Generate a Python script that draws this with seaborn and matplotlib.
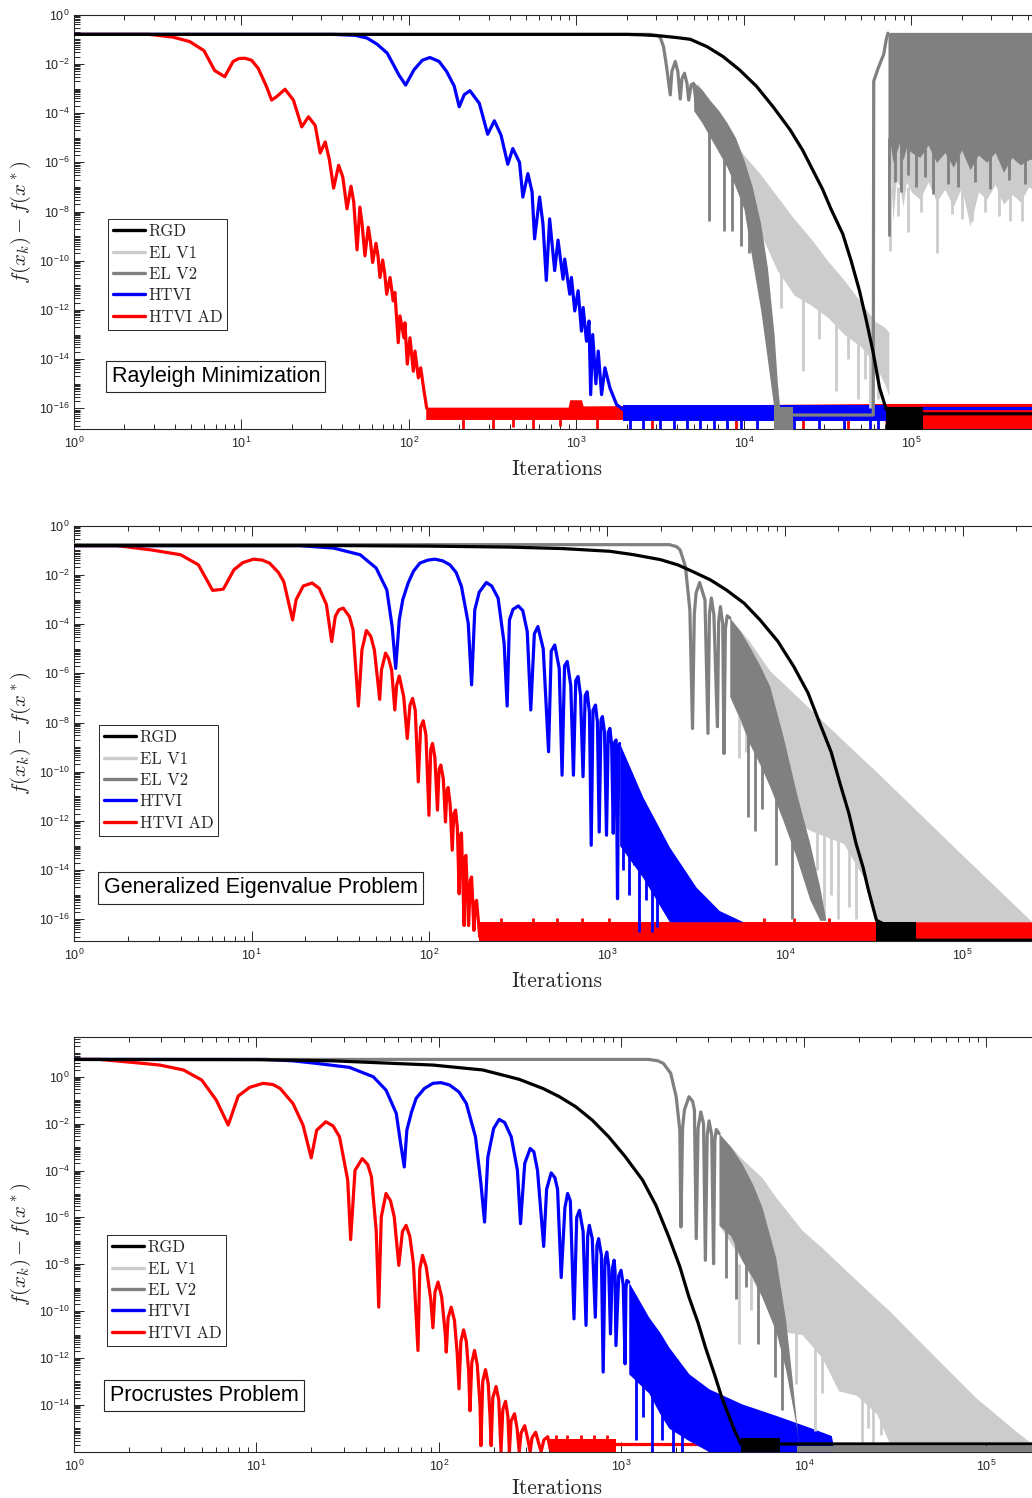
import numpy as np
import matplotlib
matplotlib.use("Agg")
import matplotlib.pyplot as plt
import matplotlib.ticker as mticker
from matplotlib.lines import Line2D
import seaborn as sns

# ==================================================
# DATA (all values are log10 of iterations / log10 of f(x_k)-f(x*))
# lines: (x, y) ; bands: (x, low, high) ; spikes: (x, top, bottom)
# ==================================================

SERIES = ["RGD", "EL V1", "EL V2", "HTVI", "HTVI AD"]
PANEL_TITLES = ["Rayleigh Minimization", "Generalized Eigenvalue Problem", "Procrustes Problem"]

# ---------------- panel 1 : Rayleigh ----------------
P1_RGD = [(0.0, -0.80), (3.30, -0.80), (3.40, -0.82), (3.50, -0.86), (3.60, -0.93), (3.68, -1.0),
          (3.78, -1.3), (3.875, -1.70), (3.975, -2.25), (4.075, -2.91), (4.175, -3.75), (4.275, -4.67),
          (4.35, -5.5), (4.41, -6.3), (4.47, -7.1), (4.52, -7.9), (4.59, -8.91), (4.64, -10.0),
          (4.69, -11.22), (4.73, -12.40), (4.77, -13.67), (4.81, -15.17), (4.85, -16.05),
          (5.07, -16.22), (5.80, -16.22)]
P1_RGD_BLOCK = [(4.85, -16.9, -15.93), (5.07, -16.9, -15.93)]

P1_EL2 = [(0.0, -0.80), (3.44, -0.80), (3.48, -0.84), (3.50, -0.92), (3.52, -1.3), (3.54, -2.2),
          (3.56, -3.26), (3.57, -2.3), (3.59, -1.9), (3.605, -2.3), (3.62, -3.43), (3.63, -2.6),
          (3.645, -2.38), (3.66, -2.8), (3.67, -3.47), (3.685, -2.85), (3.70, -2.79), (3.72, -3.87)]
P1_EL2_BAND = [(3.70, -3.9, -2.75), (3.75, -4.4, -3.05), (3.80, -5.0, -3.5), (3.85, -5.6, -3.9),
               (3.90, -6.2, -4.4), (3.95, -7.0, -5.0), (4.00, -7.9, -5.9), (4.05, -10.0, -7.0),
               (4.10, -12.0, -8.5), (4.14, -14.0, -10.27), (4.18, -16.05, -13.0), (4.20, -16.05, -15.0),
               (4.215, -16.05, -16.05)]
P1_EL2_SPIKES = [(3.79, -4.5, -8.37), (3.88, -5.5, -8.78), (3.93, -6.0, -8.78), (3.98, -6.5, -9.39),
                 (4.03, -7.5, -9.7)]
P1_EL2_FLOOR = [(4.18, -16.9, -15.93), (4.29, -16.9, -15.93)]
P1_EL2_TAIL = [(4.20, -16.27), (4.772, -16.27), (4.775, -2.7), (4.80, -2.2), (4.835, -1.6),
               (4.85, -1.0), (4.86, -0.75)]
P1_EL2_NOISE = [(4.86, -9.0, -0.75), (4.875, -5.3, -0.72), (4.89, -6.0, -0.72), (4.91, -5.6, -0.72),
                (4.93, -5.2, -0.72), (4.95, -5.9, -0.72), (4.97, -5.4, -0.72), (5.00, -5.6, -0.72),
                (5.05, -5.8, -0.72), (5.10, -5.3, -0.72), (5.15, -6.0, -0.72), (5.20, -5.6, -0.72),
                (5.25, -6.2, -0.72), (5.30, -5.5, -0.72), (5.35, -6.3, -0.72), (5.40, -5.7, -0.72),
                (5.45, -6.0, -0.72), (5.50, -5.6, -0.72), (5.55, -6.4, -0.72), (5.60, -5.8, -0.72),
                (5.65, -6.1, -0.72), (5.70, -5.9, -0.72), (5.80, -5.7, -0.72)]
P1_EL2_NOISE_SPIKES = [(4.865, -5, -9.0), (4.90, -5, -6.8), (4.94, -5, -7.2), (4.98, -5, -6.5),
                       (5.03, -5, -7.0), (5.08, -5, -6.6), (5.13, -5, -7.3), (5.22, -5, -6.9),
                       (5.28, -5, -7.0), (5.38, -5, -6.8), (5.47, -5, -7.1), (5.58, -5, -6.7),
                       (5.68, -5, -6.9)]
P1_EL1_BAND = [(3.72, -3.9, -2.75), (3.80, -5.0, -3.6), (3.84, -5.4, -4.2), (3.90, -6.2, -4.8),
               (4.00, -7.8, -5.7), (4.10, -8.9, -6.5), (4.20, -10.4, -7.4), (4.30, -11.4, -8.3),
               (4.40, -11.8, -9.1), (4.50, -12.3, -10.0), (4.60, -13.0, -10.8), (4.70, -13.5, -11.7),
               (4.78, -14.2, -12.45), (4.84, -15.0, -12.7), (4.865, -15.5, -12.9)]
P1_EL1_SPIKES = [(4.22, -10, -11.9), (4.35, -10.5, -14.5), (4.45, -11, -13.2), (4.55, -11.5, -15.3),
                 (4.62, -12, -14.0), (4.68, -12, -15.6), (4.72, -12.5, -14.8), (4.75, -12.5, -16.0),
                 (4.80, -13, -15.6)]
P1_EL1_NOISE = [(4.865, -9.6, -0.75), (4.875, -6.5, -0.72), (4.89, -8.4, -0.72), (4.91, -6.7, -0.72),
                (4.93, -7.0, -0.72), (4.95, -7.8, -0.72), (4.97, -6.8, -0.72), (5.00, -7.2, -0.72),
                (5.05, -7.5, -0.72), (5.10, -6.8, -0.72), (5.15, -7.6, -0.72), (5.20, -7.1, -0.72),
                (5.25, -7.8, -0.72), (5.30, -7.0, -0.72), (5.35, -8.6, -0.72), (5.40, -7.2, -0.72),
                (5.45, -7.5, -0.72), (5.50, -6.9, -0.72), (5.55, -7.7, -0.72), (5.60, -7.3, -0.72),
                (5.65, -7.6, -0.72), (5.70, -7.0, -0.72), (5.80, -7.4, -0.72)]
P1_EL1_NOISE_SPIKES = [(4.87, -7, -9.6), (4.92, -7, -8.2), (4.98, -7, -8.85), (5.06, -7, -8.0),
                       (5.15, -7, -9.7), (5.24, -7, -8.1), (5.30, -7, -8.3), (5.36, -7, -8.4),
                       (5.44, -7, -8.0), (5.52, -7, -8.2), (5.59, -7, -8.4), (5.66, -7, -8.4)]

P1_HT = [(0.0, -0.80), (1.55, -0.80), (1.68, -0.84), (1.75, -0.95), (1.81, -1.2), (1.87, -1.56),
         (1.94, -2.45), (1.98, -2.86), (2.03, -2.24), (2.08, -1.85), (2.125, -1.74), (2.18, -1.9),
         (2.225, -2.31), (2.27, -2.9), (2.30, -3.74), (2.33, -3.25), (2.364, -3.09), (2.42, -3.6),
         (2.47, -4.86), (2.51, -4.31), (2.55, -4.9), (2.59, -6.08), (2.62, -5.44), (2.66, -6.0),
         (2.68, -7.41), (2.71, -6.46), (2.735, -7.2), (2.75, -9.11), (2.78, -7.41), (2.80, -8.5),
         (2.82, -10.8), (2.84, -8.3), (2.87, -10.4), (2.89, -9.16), (2.92, -10.75), (2.93, -9.93),
         (2.96, -11.36), (2.97, -10.68), (2.99, -12.04), (3.01, -11.22), (3.03, -12.86), (3.04, -11.9),
         (3.06, -13.27), (3.075, -12.45), (3.085, -15.44), (3.097, -13.0), (3.116, -15.0),
         (3.13, -13.67), (3.15, -15.44), (3.17, -14.35), (3.20, -15.17), (3.24, -15.85), (3.28, -16.05)]
P1_HT_FLOOR = [(3.28, -16.5, -15.85), (4.85, -16.5, -15.85)]
P1_HT_TAIL = [(4.85, -16.0), (5.80, -16.0)]
P1_HT_SPIKES = [(3.32, -16.2, -16.9), (3.40, -16.2, -16.9), (3.50, -16.2, -16.9), (3.58, -16.2, -16.9),
                (3.66, -16.2, -16.9), (3.74, -16.2, -16.9), (3.82, -16.2, -16.9), (3.90, -16.2, -16.9),
                (3.98, -16.2, -16.9), (4.08, -16.2, -16.9), (4.30, -16.2, -16.9), (4.45, -16.2, -16.9),
                (4.60, -16.2, -16.9), (4.75, -16.2, -16.9), (4.80, -16.2, -16.9)]

P1_AD = [(0.0, -0.80), (0.45, -0.80), (0.59, -0.91), (0.69, -1.09), (0.776, -1.46), (0.84, -2.27),
         (0.90, -2.52), (0.95, -1.9), (0.985, -1.78), (1.02, -1.77), (1.06, -1.85), (1.10, -2.18),
         (1.15, -2.93), (1.18, -3.47), (1.21, -3.33), (1.26, -3.03), (1.31, -3.47), (1.36, -4.56),
         (1.40, -4.15), (1.44, -4.5), (1.47, -5.62), (1.50, -5.17), (1.525, -5.9), (1.55, -7.05),
         (1.58, -6.12), (1.605, -6.6), (1.63, -7.89), (1.654, -6.97), (1.67, -7.6), (1.69, -9.56),
         (1.707, -7.82), (1.72, -8.5), (1.737, -9.8), (1.757, -8.64), (1.77, -9.2), (1.783, -10.07),
         (1.803, -9.29), (1.815, -9.8), (1.827, -10.68), (1.843, -9.97), (1.855, -10.5), (1.867, -11.36),
         (1.887, -10.68), (1.906, -11.63), (1.916, -11.29), (1.936, -13.33), (1.946, -12.24),
         (1.97, -13.13), (1.976, -12.52), (1.99, -14.2), (2.006, -13.13), (2.026, -14.49),
         (2.036, -13.67), (2.056, -14.76), (2.07, -14.35), (2.09, -15.3), (2.106, -15.99)]
P1_AD_FLOOR = [(2.10, -16.45, -15.95), (2.95, -16.45, -15.95), (2.96, -16.45, -15.65),
               (3.03, -16.45, -15.65), (3.04, -16.45, -15.9), (4.84, -16.45, -15.8),
               (4.85, -16.9, -15.8), (5.80, -16.9, -15.8)]
P1_AD_SPIKES = [(2.32, -16.2, -16.9), (2.50, -16.2, -16.9), (2.62, -16.2, -16.75), (2.74, -16.2, -16.9),
                (2.90, -16.2, -16.7), (3.12, -16.2, -16.9), (3.45, -16.2, -16.9), (3.95, -16.2, -16.9),
                (4.35, -16.2, -16.9), (4.62, -16.2, -16.9)]

# ---------------- panel 2 : generalized eigenvalue ----------------
P2_RGD = [(0.0, -0.81), (1.5, -0.81), (2.0, -0.83), (2.45, -0.87), (2.75, -0.93), (3.015, -1.04),
          (3.15, -1.18), (3.30, -1.38), (3.40, -1.60), (3.48, -1.86), (3.58, -2.2), (3.67, -2.61),
          (3.77, -3.15), (3.86, -3.83), (3.96, -4.7), (4.05, -5.73), (4.13, -6.8), (4.196, -8.03),
          (4.26, -9.2), (4.31, -10.48), (4.36, -11.7), (4.40, -12.92), (4.44, -13.9), (4.47, -14.82),
          (4.515, -16.04), (4.74, -16.85), (5.45, -16.85)]
P2_RGD_BLOCK = [(4.515, -16.9, -16.1), (4.74, -16.9, -16.1)]

P2_EL2 = [(0.0, -0.77), (3.35, -0.77), (3.39, -0.85), (3.41, -0.98), (3.44, -1.66), (3.465, -3.42),
          (3.48, -8.24), (3.49, -3.6), (3.50, -2.74), (3.52, -2.31), (3.55, -3.01), (3.567, -8.44),
          (3.575, -3.6), (3.586, -2.94), (3.60, -3.6), (3.62, -8.17), (3.627, -3.9), (3.637, -3.29),
          (3.65, -4.0), (3.657, -9.26), (3.665, -4.2), (3.675, -3.66), (3.69, -3.75)]
P2_EL2_BAND = [(3.69, -6.95, -3.75), (3.75, -7.9, -4.3), (3.80, -8.85, -4.91), (3.86, -9.7, -5.7),
               (3.915, -10.6, -6.54), (3.99, -12.0, -8.58), (4.065, -13.5, -10.88), (4.14, -15.2, -12.92),
               (4.196, -16.04, -14.69), (4.23, -16.04, -16.04)]
P2_EL2_SPIKES = [(3.79, -6, -11.84), (3.83, -7, -12.4), (3.87, -7, -11.5), (3.95, -9, -13.8),
                 (4.04, -11, -16.0)]
P2_EL1_BAND = [(3.69, -6.95, -3.75), (3.80, -8.85, -4.7), (3.915, -10.6, -5.9), (4.01, -11.84, -6.54),
               (4.14, -12.38, -7.44), (4.33, -12.92, -8.75), (4.44, -14.28, -9.5), (4.515, -16.1, -10.0),
               (4.60, -16.1, -10.6), (5.00, -16.1, -13.4), (5.39, -16.1, -16.1), (5.45, -16.1, -16.1)]
P2_EL1_SPIKES = [(3.74, -6, -9.45), (3.78, -7, -9.2), (4.18, -12, -14.0), (4.22, -12, -16.0),
                 (4.26, -12.5, -15.0), (4.30, -12.5, -16.0), (4.36, -13, -15.5), (4.40, -13, -16.0)]

P2_HT = [(0.0, -0.81), (1.27, -0.81), (1.46, -0.91), (1.61, -1.18), (1.70, -1.72), (1.76, -2.61),
         (1.79, -4.1), (1.81, -5.8), (1.83, -3.83), (1.85, -3.0), (1.88, -2.33), (1.91, -1.85),
         (1.946, -1.52), (1.99, -1.4), (2.03, -1.36), (2.075, -1.43), (2.115, -1.59), (2.15, -1.9),
         (2.18, -2.47), (2.218, -3.96), (2.237, -6.47), (2.255, -3.42), (2.28, -2.7), (2.32, -2.31),
         (2.35, -2.45), (2.386, -2.94), (2.42, -4.78), (2.437, -7.33), (2.45, -3.83), (2.47, -3.4),
         (2.50, -3.26), (2.525, -3.45), (2.55, -4.3), (2.57, -7.49), (2.59, -4.4), (2.61, -4.1),
         (2.64, -5.0), (2.67, -9.19), (2.685, -5.1), (2.705, -4.85), (2.73, -5.8), (2.746, -10.14),
         (2.76, -5.7), (2.775, -5.52), (2.795, -6.5), (2.81, -10.14), (2.823, -6.3), (2.836, -6.13),
         (2.85, -6.9), (2.864, -10.2), (2.876, -6.9), (2.887, -6.75), (2.90, -7.6), (2.91, -12.99),
         (2.92, -7.5), (2.934, -7.29), (2.945, -8.0), (2.955, -12.45), (2.965, -7.9), (2.973, -7.76),
         (2.985, -8.4), (2.996, -12.58), (3.006, -8.4), (3.015, -8.24), (3.025, -8.9), (3.034, -12.5),
         (3.042, -8.8), (3.05, -8.71), (3.058, -15.16), (3.065, -9.0), (3.07, -8.85)]
P2_HT_BAND = [(3.07, -13.0, -8.85), (3.20, -14.3, -11.02), (3.35, -16.1, -13.06), (3.50, -16.1, -14.69),
              (3.63, -16.1, -15.64), (3.765, -16.1, -16.1)]
P2_HT_SPIKES = [(3.09, -12, -14.0), (3.12, -12, -15.0), (3.15, -12.5, -13.8), (3.18, -13, -16.5),
                (3.22, -13.5, -15.2), (3.25, -14, -16.5), (3.28, -14.5, -16.3)]

P2_AD = [(0.0, -0.81), (0.24, -0.81), (0.43, -0.98), (0.60, -1.18), (0.70, -1.59), (0.78, -2.63),
         (0.84, -2.58), (0.90, -1.79), (0.95, -1.5), (1.01, -1.36), (1.06, -1.4), (1.10, -1.52),
         (1.15, -1.9), (1.18, -2.27), (1.23, -3.83), (1.25, -3.0), (1.29, -2.45), (1.34, -2.33),
         (1.38, -2.55), (1.42, -3.2), (1.45, -4.71), (1.47, -3.69), (1.49, -3.42), (1.515, -3.35),
         (1.55, -3.7), (1.57, -4.23), (1.60, -7.33), (1.62, -5.05), (1.645, -4.26), (1.67, -4.5),
         (1.69, -5.05), (1.72, -7.06), (1.73, -5.86), (1.753, -5.18), (1.77, -5.4), (1.787, -5.86),
         (1.805, -7.49), (1.815, -6.5), (1.83, -6.11), (1.855, -6.95), (1.875, -8.65), (1.89, -7.3),
         (1.905, -7.02), (1.92, -7.5), (1.937, -10.41), (1.95, -8.2), (1.965, -7.93), (1.98, -8.5),
         (1.997, -11.77), (2.007, -9.1), (2.017, -8.85), (2.03, -9.4), (2.045, -11.56), (2.054, -9.9),
         (2.064, -9.73), (2.078, -10.3), (2.09, -12.04), (2.098, -10.8), (2.105, -10.64), (2.116, -11.3),
         (2.128, -13.19), (2.137, -11.7), (2.147, -11.56), (2.157, -12.3), (2.167, -14.96),
         (2.174, -12.6), (2.18, -12.49), (2.195, -16.25), (2.20, -13.5), (2.205, -13.4), (2.22, -16.25),
         (2.23, -14.4), (2.237, -14.28), (2.25, -16.45), (2.258, -15.3), (2.265, -15.23),
         (2.283, -16.72), (2.30, -16.4)]
P2_AD_FLOOR = [(2.28, -16.9, -16.1), (5.45, -16.9, -16.1)]
P2_AD_SPIKES = [(2.40, -15.95, -16.3), (2.58, -15.95, -16.3), (2.72, -15.95, -16.3), (2.86, -15.95, -16.3),
                (3.01, -15.95, -16.3), (3.18, -15.95, -16.3), (3.36, -15.95, -16.3), (3.52, -15.95, -16.3),
                (3.70, -15.95, -16.3), (3.88, -15.95, -16.3), (4.05, -15.95, -16.3), (4.25, -15.95, -16.3),
                (4.62, -15.95, -16.3), (4.82, -15.95, -16.3), (4.98, -15.95, -16.3), (5.15, -15.95, -16.3),
                (5.30, -15.95, -16.3)]

# ---------------- panel 3 : Procrustes ----------------
P3_RGD = [(0.0, 0.74), (1.0, 0.73), (1.42, 0.68), (1.967, 0.50), (2.24, 0.29), (2.386, 0.0),
          (2.44, -0.11), (2.57, -0.5), (2.66, -0.85), (2.75, -1.28), (2.84, -1.85), (2.93, -2.56),
          (3.02, -3.4), (3.116, -4.41), (3.19, -5.5), (3.26, -6.84), (3.32, -8.1), (3.37, -9.4),
          (3.42, -10.5), (3.46, -11.54), (3.51, -12.7), (3.55, -13.68), (3.59, -14.5), (3.62, -15.1),
          (3.655, -15.67), (5.30, -15.67)]
P3_RGD_BLOCK = [(3.655, -16.0, -15.42), (3.87, -16.0, -15.42)]

P3_EL2 = [(0.0, 0.74), (3.15, 0.74), (3.20, 0.68), (3.23, 0.57), (3.27, 0.15), (3.30, -0.85),
          (3.32, -2.28), (3.326, -6.41), (3.335, -2.2), (3.345, -1.42), (3.37, -0.85), (3.39, -1.05),
          (3.40, -1.42), (3.41, -6.91), (3.42, -2.2), (3.435, -1.5), (3.45, -2.0), (3.46, -7.83),
          (3.47, -2.5), (3.48, -1.88), (3.495, -2.5), (3.505, -7.98), (3.512, -2.7), (3.52, -2.25),
          (3.535, -2.42)]
P3_EL2_BAND = [(3.535, -6.34, -2.42), (3.60, -6.8, -3.0), (3.66, -7.83, -3.7), (3.72, -8.6, -4.6),
               (3.77, -9.4, -5.56), (3.845, -10.83, -7.69), (3.90, -12.5, -10.4), (3.936, -14.0, -12.96),
               (3.96, -15.0, -14.81), (3.97, -15.7, -15.7)]
P3_EL2_SPIKES = [(3.575, -6, -8.6), (3.627, -6.5, -9.5), (3.685, -7, -8.97), (3.75, -8, -11.4),
                 (3.842, -10, -12.82), (3.879, -11.5, -14.2)]
P3_EL2_FLOOR = [(3.96, -16.0, -15.74), (5.30, -16.0, -15.74)]
P3_EL1_BAND = [(3.535, -6.34, -2.42), (3.66, -7.83, -3.5), (3.77, -9.4, -4.3), (3.845, -10.83, -5.13),
               (3.99, -11.0, -6.55), (4.10, -12.0, -7.3), (4.19, -13.4, -7.97), (4.29, -13.6, -8.7),
               (4.40, -14.4, -9.5), (4.47, -15.67, -10.0), (4.575, -15.67, -10.83), (4.94, -15.67, -13.68),
               (5.18, -15.67, -15.24), (5.24, -15.67, -15.6), (5.30, -15.67, -15.67)]
P3_EL1_SPIKES = [(3.645, -8, -11.4), (3.71, -8, -9.97), (3.955, -10, -13.1), (4.06, -11, -15.1),
                 (4.10, -11, -13.5), (4.32, -13, -15.67), (4.35, -13, -15.0), (4.38, -13, -15.67),
                 (4.42, -14, -15.3)]

P3_HT = [(0.0, 0.74), (1.05, 0.74), (1.20, 0.68), (1.33, 0.57), (1.51, 0.40), (1.64, 0.0),
         (1.71, -0.57), (1.766, -1.56), (1.79, -2.85), (1.81, -3.85), (1.824, -2.28), (1.85, -1.5),
         (1.875, -0.92), (1.92, -0.5), (1.967, -0.28), (2.01, -0.25), (2.058, -0.35), (2.11, -0.65),
         (2.15, -1.14), (2.20, -2.56), (2.23, -4.56), (2.25, -6.2), (2.268, -3.42), (2.30, -2.2),
         (2.33, -1.82), (2.36, -1.95), (2.396, -2.56), (2.43, -3.99), (2.447, -6.27), (2.47, -3.7),
         (2.50, -3.06), (2.52, -3.2), (2.54, -3.99), (2.574, -7.24), (2.59, -4.8), (2.615, -4.1),
         (2.635, -4.3), (2.65, -4.8), (2.67, -8.57), (2.69, -5.6), (2.705, -4.98), (2.72, -5.3),
         (2.74, -10.33), (2.755, -6.0), (2.77, -5.7), (2.79, -6.6), (2.806, -10.61), (2.815, -6.8),
         (2.824, -6.34), (2.84, -6.9), (2.857, -10.26), (2.866, -7.2), (2.875, -6.91), (2.89, -7.6),
         (2.90, -12.6), (2.91, -7.8), (2.92, -7.48), (2.93, -8.1), (2.94, -10.97), (2.95, -8.2),
         (2.96, -7.83), (2.965, -8.3), (2.97, -11.47), (2.985, -8.5), (2.998, -8.26), (3.01, -8.9),
         (3.02, -12.25), (3.025, -9.0), (3.03, -8.69), (3.04, -8.76)]
P3_HT_BAND = [(3.04, -12.68, -8.76), (3.15, -13.5, -10.26), (3.21, -14.38, -10.9), (3.26, -15.0, -11.54),
              (3.37, -15.53, -12.68), (3.48, -16.0, -13.32), (3.66, -16.0, -13.96), (3.85, -16.0, -14.46),
              (4.03, -16.0, -14.96), (4.15, -16.0, -15.31), (4.16, -16.0, -15.7)]
P3_HT_SPIKES = [(3.08, -12, -15.5), (3.12, -12.5, -14.5), (3.17, -13, -16.0), (3.22, -13.5, -15.5),
                (3.28, -14, -16.0), (3.33, -14.5, -16.0)]

P3_AD = [(0.0, 0.74), (0.14, 0.74), (0.325, 0.61), (0.47, 0.50), (0.60, 0.29), (0.70, -0.14),
         (0.78, -1.0), (0.845, -2.06), (0.90, -0.82), (0.963, -0.45), (1.036, -0.28), (1.09, -0.33),
         (1.13, -0.5), (1.20, -1.14), (1.255, -2.06), (1.30, -3.46), (1.33, -2.28), (1.38, -1.92),
         (1.42, -2.1), (1.455, -2.56), (1.50, -4.41), (1.516, -6.95), (1.54, -3.99), (1.58, -3.49),
         (1.61, -3.75), (1.63, -4.27), (1.656, -6.55), (1.67, -9.83), (1.684, -5.98), (1.71, -4.98),
         (1.735, -5.3), (1.755, -5.98), (1.78, -8.05), (1.80, -6.6), (1.82, -6.34), (1.84, -6.8),
         (1.86, -7.97), (1.885, -11.68), (1.895, -8.2), (1.91, -7.62), (1.93, -8.1), (1.955, -9.5),
         (1.967, -10.71), (1.978, -9.2), (1.995, -8.76), (2.015, -9.4), (2.035, -11.0), (2.04, -11.75),
         (2.05, -10.3), (2.067, -9.83), (2.085, -10.4), (2.10, -11.8), (2.11, -13.32), (2.12, -11.3),
         (2.135, -10.8), (2.15, -11.3), (2.163, -12.6), (2.17, -14.25), (2.18, -12.2), (2.195, -11.68),
         (2.21, -12.3), (2.225, -14.0), (2.23, -15.74), (2.24, -13.0), (2.255, -12.5), (2.27, -13.1),
         (2.28, -14.5), (2.286, -15.74), (2.295, -13.7), (2.313, -13.22), (2.328, -13.8), (2.34, -16.0),
         (2.35, -14.2), (2.365, -13.85), (2.378, -14.5), (2.386, -16.0), (2.395, -14.7), (2.414, -14.38),
         (2.428, -15.0), (2.44, -16.0), (2.45, -15.2), (2.47, -14.89), (2.485, -15.4), (2.50, -16.0),
         (2.51, -15.4), (2.53, -15.17), (2.545, -15.6), (2.56, -16.0), (2.575, -15.5), (2.596, -15.36),
         (2.61, -15.9)]
P3_AD_FLOOR = [(2.61, -16.0, -15.45), (2.97, -16.0, -15.45)]
P3_AD_TAIL = [(2.97, -15.67), (3.70, -15.67)]
P3_AD_SPIKES = [(2.64, -15.3, -15.6), (2.70, -15.3, -15.6), (2.78, -15.3, -15.6), (2.85, -15.3, -15.6),
                (2.92, -15.3, -15.6)]

# ==================================================
# STYLE
# ==================================================

COLORS = {"RGD": "#000000", "EL V1": "#cccccc", "EL V2": "#808080",
          "HTVI": "#0000ff", "HTVI AD": "#ff0000"}
ZORD = {"RGD": 6, "EL V1": 4, "EL V2": 5, "HTVI": 3, "HTVI AD": 2}
AXC = "#262626"
LW = 2.3

sns.set_style("ticks")
plt.rcParams["font.family"] = ["Liberation Sans", "DejaVu Sans"]
plt.rcParams["mathtext.fontset"] = "cm"
plt.rcParams["axes.linewidth"] = 0.8


def lg(v):
    return 10 ** np.asarray(v, dtype=float)


def draw_line(ax, pts, name):
    x, y = zip(*pts)
    sns.lineplot(x=lg(x), y=lg(y), estimator=None, sort=False, color=COLORS[name],
                 lw=LW, ax=ax, zorder=ZORD[name], legend=False)


def draw_band(ax, pts, name):
    x, lo, hi = zip(*pts)
    ax.fill_between(lg(x), lg(lo), lg(hi), color=COLORS[name], lw=0, zorder=ZORD[name])


def draw_spikes(ax, pts, name, lw=2.0):
    x, top, bot = zip(*pts)
    ax.vlines(lg(x), lg(bot), lg(top), colors=COLORS[name], lw=lw, zorder=ZORD[name])


PANELS = [
    dict(lines=[("RGD", P1_RGD), ("EL V2", P1_EL2), ("EL V2", P1_EL2_TAIL), ("HTVI", P1_HT),
                ("HTVI", P1_HT_TAIL), ("HTVI AD", P1_AD)],
         bands=[("RGD", P1_RGD_BLOCK), ("EL V1", P1_EL1_BAND), ("EL V1", P1_EL1_NOISE),
                ("EL V2", P1_EL2_BAND), ("EL V2", P1_EL2_FLOOR), ("EL V2", P1_EL2_NOISE),
                ("HTVI", P1_HT_FLOOR), ("HTVI AD", P1_AD_FLOOR)],
         spikes=[("EL V1", P1_EL1_SPIKES), ("EL V1", P1_EL1_NOISE_SPIKES), ("EL V2", P1_EL2_SPIKES),
                 ("EL V2", P1_EL2_NOISE_SPIKES), ("HTVI", P1_HT_SPIKES), ("HTVI AD", P1_AD_SPIKES)],
         xmax=5.72, ylim=(-16.85, 0.0), yticks=range(0, -17, -2), xlab_y=-0.074,
         rect=(74, 14.7, 429.3), legend=(108, 219), title=(111.5, 376.5)),
    dict(lines=[("RGD", P2_RGD), ("EL V2", P2_EL2), ("HTVI", P2_HT), ("HTVI AD", P2_AD)],
         bands=[("RGD", P2_RGD_BLOCK), ("EL V1", P2_EL1_BAND), ("EL V2", P2_EL2_BAND),
                ("HTVI", P2_HT_BAND), ("HTVI AD", P2_AD_FLOOR)],
         spikes=[("EL V1", P2_EL1_SPIKES), ("EL V2", P2_EL2_SPIKES), ("HTVI", P2_HT_SPIKES),
                 ("HTVI AD", P2_AD_SPIKES)],
         xmax=5.39, ylim=(-16.88, 0.0), yticks=range(0, -17, -2), xlab_y=-0.074,
         rect=(74, 525.7, 941.0), legend=(99, 725), title=(103.5, 888)),
    dict(lines=[("RGD", P3_RGD), ("EL V2", P3_EL2), ("HTVI", P3_HT), ("HTVI AD", P3_AD),
                ("HTVI AD", P3_AD_TAIL)],
         bands=[("RGD", P3_RGD_BLOCK), ("EL V1", P3_EL1_BAND), ("EL V2", P3_EL2_BAND),
                ("EL V2", P3_EL2_FLOOR), ("HTVI", P3_HT_BAND), ("HTVI AD", P3_AD_FLOOR)],
         spikes=[("EL V1", P3_EL1_SPIKES), ("EL V2", P3_EL2_SPIKES), ("HTVI", P3_HT_SPIKES),
                 ("HTVI AD", P3_AD_SPIKES)],
         xmax=5.25, ylim=(-16.0, 1.71), yticks=range(0, -15, -2), xlab_y=-0.064,
         rect=(74, 1036.7, 1451.7), legend=(107, 1235), title=(109.5, 1395.5)),
]

# ==================================================
# FIGURE
# ==================================================

W, H = 1032, 1498
fig = plt.figure(figsize=(W / 100, H / 100), dpi=100)

for spec, title in zip(PANELS, PANEL_TITLES):
    left, top, bottom = spec["rect"]
    ax = fig.add_axes([left / W, 1 - bottom / H, (W - left) / W, (bottom - top) / H])
    ax.set_xscale("log")
    ax.set_yscale("log")

    for name, pts in spec["bands"]:
        draw_band(ax, pts, name)
    for name, pts in spec["spikes"]:
        draw_spikes(ax, pts, name)
    for name, pts in spec["lines"]:
        draw_line(ax, pts, name)

    ax.set_xlim(1, 10 ** spec["xmax"])
    ax.set_ylim(10 ** spec["ylim"][0], 10 ** spec["ylim"][1])

    ax.xaxis.set_major_locator(mticker.LogLocator(base=10, numticks=20))
    ax.xaxis.set_minor_locator(mticker.LogLocator(base=10, subs=np.arange(2, 10), numticks=100))
    ax.xaxis.set_minor_formatter(mticker.NullFormatter())
    ax.yaxis.set_major_locator(mticker.FixedLocator([10.0 ** k for k in spec["yticks"]]))
    ax.yaxis.set_minor_locator(mticker.LogLocator(base=10, subs=np.arange(1, 10), numticks=200))
    ax.yaxis.set_minor_formatter(mticker.NullFormatter())

    ax.tick_params(which="both", direction="in", top=True, right=False, colors=AXC,
                   labelsize=9, width=0.7)
    ax.tick_params(axis="x", which="major", length=7, pad=5)
    ax.tick_params(axis="x", which="minor", length=3.5)
    ax.tick_params(axis="y", which="major", length=7, pad=3)
    ax.tick_params(axis="y", which="minor", length=4)
    for s in ["left", "top", "bottom"]:
        ax.spines[s].set_color(AXC)
        ax.spines[s].set_linewidth(0.8)
    ax.spines["right"].set_visible(False)

    ax.set_xlabel("Iterations", fontfamily="cmr10", fontsize=15.5, color=AXC)
    ax.xaxis.set_label_coords(0.504, spec["xlab_y"])
    ax.set_ylabel(r"$f(x_k) - f(x^*)$", fontsize=15, color=AXC)
    ax.yaxis.set_label_coords(-0.043, 0.5)

    handles = [Line2D([], [], color=COLORS[n], lw=2.4) for n in SERIES]
    lx, ly = spec["legend"]
    leg = ax.legend(handles, SERIES, loc="upper left", bbox_to_anchor=(lx / W, 1 - ly / H),
                    bbox_transform=fig.transFigure, borderaxespad=0, prop={"family": "cmr10", "size": 12},
                    handlelength=1.9, handletextpad=0.25, labelspacing=0.36, borderpad=0.3,
                    fancybox=False, framealpha=1, edgecolor=AXC)
    leg.get_frame().set_linewidth(0.7)
    leg.set_zorder(10)

    tx, ty = spec["title"]
    fig.text(tx / W, 1 - ty / H, title, fontsize=15.5, ha="left", va="center", color="black",
             family=["Liberation Sans", "DejaVu Sans"], zorder=10,
             bbox=dict(boxstyle="square,pad=0.25", fc="white", ec=AXC, lw=0.8))

fig.savefig("out.png", dpi=100)
